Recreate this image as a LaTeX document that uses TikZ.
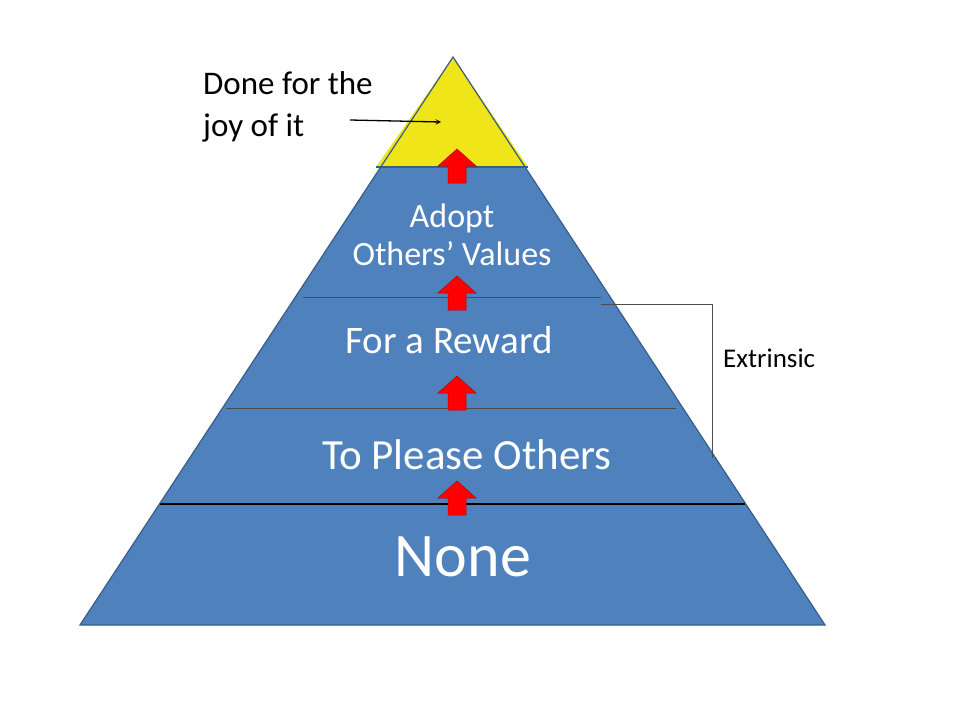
\documentclass[tikz,border=0pt]{standalone}
\usepackage{fontspec}
\setmainfont{Carlito}
\begin{document}
\begin{tikzpicture}[x=1pt,y=-1pt,
  lay/.style={fill=blueA,draw=blueB,line width=1.2pt},
  sep/.style={draw=black!70,line width=0.6pt},
  wt/.style={text=white,inner sep=0pt,align=center},
  uparrow/.pic={\fill[red,draw=red!70!black,line width=0.5pt] (-9,0)--(-9,-17)--(-19,-17)--(0,-34)--(19,-17)--(9,-17)--(9,0)--cycle;}]
\definecolor{blueA}{HTML}{4F81BD}\definecolor{blueB}{HTML}{385D8A}
\useasboundingbox (0,0) rectangle (960,720);
\coordinate (apex) at (453,57);
\coordinate (bl) at (80,625);
\coordinate (br) at (825,625);
\fill[blueA] (apex)--(bl)--(br)--cycle;
\fill[yellow!85!olive!90] (apex)--(376,167)--(528,167)--cycle;
\draw[sep] (303,297)--(601,297);
\draw[sep] (226,408)--(676,408);
\draw[line width=2.5pt] (160,504)--(745,504);
\draw[blueB,line width=1.2pt] (apex)--(bl)--(br)--cycle;
\draw[blueB,line width=1.2pt] (376,167)--(528,167);
\pic at (457,183) {uparrow};
\pic at (457,310) {uparrow};
\pic at (457,410) {uparrow};
\pic at (457,515) {uparrow};
\node[wt,font=\fontsize{62}{62}\selectfont] (none) at (463,557) {None};
\node[wt,font=\fontsize{43}{43}\selectfont] (please) at (467,455) {To Please Others};
\node[wt,font=\fontsize{39}{39}\selectfont] (reward) at (449,340) {For a Reward};
\node[wt,font=\fontsize{34}{38}\selectfont] (adopt) at (452,235) {Adopt\\Others’ Values};
\node[inner sep=0pt,align=left,anchor=north west,font=\fontsize{33}{42}\selectfont] (joy) at (203,71) {Done for the\\joy of it};
\coordinate (js) at (350,120);
\coordinate (je) at (441,122);
\draw[->,line width=1.3pt,>=stealth] (js)--(je);
\coordinate (b1) at (601,304);
\coordinate (b2) at (712,304);
\coordinate (b3) at (712,458);
\draw[black!70,line width=0.7pt] (b1)--(b2)--(b3);
\node[anchor=west,inner sep=0pt,font=\fontsize{27}{27}\selectfont] (ext) at (723,358) {Extrinsic};
\end{tikzpicture}
\end{document}
